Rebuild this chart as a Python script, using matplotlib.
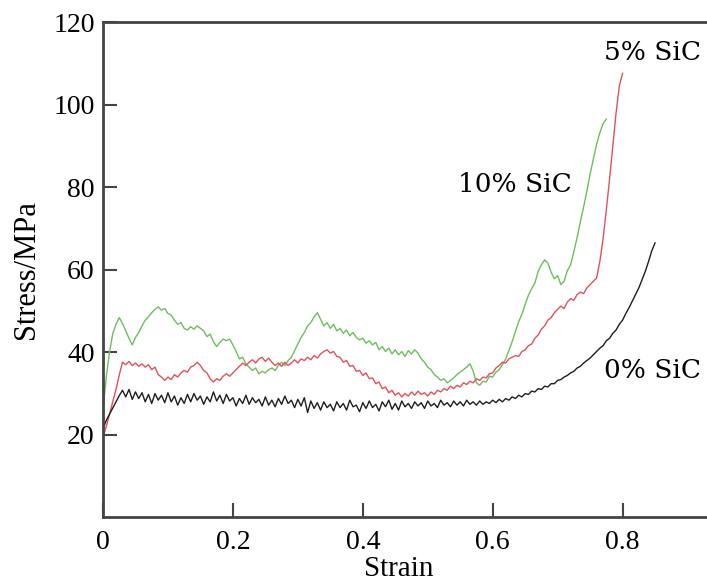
import numpy as np
import matplotlib
matplotlib.use("Agg")
import matplotlib.pyplot as plt

plt.rcParams["font.family"] = ["Liberation Serif", "DejaVu Serif"]

# stress (MPa) sampled every 0.005 strain
step = 0.005

sic0 = [
    21.5, 23.5, 25.0, 26.5, 28.0, 29.5, 30.8, 29.2, 31.0, 28.6,
    30.4, 28.8, 30.2, 28.0, 29.8, 27.6, 30.0, 28.4, 29.6, 27.8,
    30.2, 28.0, 29.4, 27.2, 29.0, 27.6, 29.8, 28.0, 30.0, 28.4,
    29.4, 27.4, 29.2, 28.0, 30.4, 28.2, 29.6, 27.6, 29.8, 28.2,
    29.0, 27.0, 28.8, 27.6, 29.6, 27.4, 29.0, 27.8, 28.6, 27.0,
    29.2, 27.2, 28.4, 26.8, 28.8, 27.4, 29.4, 27.6, 28.4, 26.6,
    28.6, 27.0, 29.0, 25.4, 28.2, 26.4, 27.8, 26.0, 28.0, 26.6,
    27.4, 25.8, 28.0, 26.6, 27.6, 26.0, 28.4, 26.8, 27.2, 25.6,
    27.8, 26.4, 28.2, 26.6, 27.4, 25.8, 28.0, 26.8, 28.4, 26.2,
    27.6, 26.0, 28.2, 26.8, 27.6, 26.4, 28.0, 27.0, 27.8, 26.4,
    28.2, 27.0, 27.6, 26.6, 28.4, 27.2, 27.8, 26.8, 28.2, 27.2,
    28.0, 27.0, 28.4, 27.4, 28.0, 27.2, 28.2, 27.4, 28.0, 27.6,
    28.4, 27.8, 28.6, 28.0, 28.8, 28.4, 29.2, 28.8, 29.6, 29.2,
    30.0, 29.8, 30.6, 30.4, 31.2, 31.0, 31.8, 31.6, 32.4, 32.4,
    33.2, 33.4, 34.0, 34.4, 35.0, 35.4, 36.2, 36.6, 37.4, 38.0,
    38.6, 39.4, 40.2, 41.0, 41.6, 42.8, 43.4, 44.6, 45.4, 46.8,
    47.8, 49.4, 50.8, 52.4, 54.0, 55.6, 57.6, 59.6, 62.0, 64.6,
    66.5,
]

sic5 = [
    19.5, 22.0, 25.0, 28.0, 31.0, 34.5, 37.6, 37.0, 37.8, 36.8,
    37.4, 36.6, 37.2, 36.4, 37.0, 35.8, 36.4, 34.6, 34.0, 33.2,
    34.0, 33.4, 34.6, 34.0, 35.0, 35.6, 35.2, 36.4, 36.8, 37.6,
    36.8, 35.6, 35.0, 33.6, 32.8, 33.6, 33.2, 34.2, 34.8, 34.2,
    35.0, 35.8, 36.6, 37.4, 36.8, 37.6, 38.2, 37.4, 38.4, 38.8,
    37.8, 38.6, 37.6, 36.8, 37.4, 36.6, 37.6, 36.8, 37.4, 38.2,
    37.4, 38.4, 38.0, 38.8, 38.2, 39.2, 38.6, 39.6, 40.2, 40.6,
    39.8, 40.2, 39.0, 38.8, 37.6, 38.0, 36.6, 36.8, 35.4, 35.6,
    34.4, 35.0, 33.6, 33.8, 32.4, 32.8, 31.2, 31.6, 30.2, 30.8,
    29.6, 30.2, 29.2, 30.0, 29.4, 30.4, 29.6, 30.6, 29.8, 30.2,
    29.4, 30.4, 29.8, 30.8, 30.4, 31.2, 30.8, 31.8, 31.2, 32.0,
    31.6, 32.6, 32.2, 33.0, 32.6, 33.6, 33.2, 34.0, 33.8, 34.8,
    35.0, 36.2, 36.8, 37.6, 37.4, 38.4, 38.8, 39.2, 39.0, 40.2,
    40.6, 41.6, 42.0, 43.4, 44.2, 45.6, 46.4, 47.8, 48.4, 49.6,
    50.4, 51.2, 50.6, 52.2, 53.0, 52.6, 54.0, 54.6, 54.2, 55.6,
    56.4, 57.2, 58.0, 62.0, 67.5, 74.5, 82.0, 90.0, 98.0, 104.5,
    107.6,
]

sic10 = [
    26.0, 34.0, 40.0, 44.5, 46.8, 48.4, 47.0, 45.2, 43.4, 41.8,
    43.6, 44.8, 46.4, 47.8, 48.6, 49.6, 50.4, 51.0, 50.2, 50.6,
    49.4, 49.0, 47.8, 46.8, 47.2, 45.8, 45.4, 46.2, 45.6, 46.4,
    45.8, 45.2, 43.8, 44.4, 42.6, 41.4, 42.4, 43.2, 42.8, 43.2,
    41.8, 40.2, 38.4, 38.8, 37.2, 36.4, 35.6, 36.2, 34.8, 35.4,
    35.0, 35.8, 36.2, 35.6, 36.8, 37.6, 36.8, 38.0, 38.8, 40.4,
    42.0, 43.6, 44.8, 46.4, 47.2, 48.6, 49.6, 48.0, 46.4, 47.2,
    45.8, 46.8, 45.2, 45.8, 44.6, 45.4, 44.0, 44.8, 43.6, 43.0,
    43.4, 42.2, 42.8, 41.8, 42.4, 40.6, 41.4, 40.2, 41.0, 39.6,
    40.6, 39.4, 40.2, 39.0, 40.4, 39.6, 40.6, 39.8, 38.4, 37.6,
    36.4, 35.8, 34.6, 34.0, 33.2, 33.6, 32.6, 33.2, 33.8, 34.6,
    35.2, 35.8, 36.4, 37.2, 35.4, 32.6, 32.0, 33.0, 32.8, 34.2,
    34.0, 35.2, 35.8, 37.0, 38.4, 40.4, 42.6, 45.0, 47.4, 49.2,
    51.6, 53.8, 55.4, 56.8, 59.6, 61.2, 62.4, 61.6, 59.4, 57.8,
    58.6, 56.4, 57.2, 59.8, 61.2, 64.4, 67.8, 71.6, 75.2, 79.0,
    83.2, 86.8, 90.4, 93.2, 95.4, 96.5,
]

curves = [
    (sic10, "#6cbf5c", "10% SiC", (0.546, 78.8)),
    (sic5, "#e4505c", "5% SiC", (0.772, 110.8)),
    (sic0, "#1e1e1e", "0% SiC", (0.772, 33.8)),
]

fig = plt.figure(figsize=(7.07, 5.82), dpi=100)
ax = fig.add_axes([0.1457, 0.111, 0.8543, 0.851])

for values, color, name, pos in curves:
    strain = np.arange(len(values)) * step
    ax.plot(strain, values, color=color, lw=1.0)
    ax.text(pos[0], pos[1], name, fontsize=19, family="DejaVu Serif",
            ha="left", va="baseline")

ax.set_xlim(0, 0.93)
ax.set_ylim(0, 120)
ax.set_xticks([0, 0.2, 0.4, 0.6, 0.8])
ax.set_xticklabels(["0", "0.2", "0.4", "0.6", "0.8"])
ax.set_yticks([20, 40, 60, 80, 100, 120])

ax.spines["right"].set_visible(False)
for side in ["left", "bottom", "top"]:
    ax.spines[side].set_linewidth(2.0)
    ax.spines[side].set_color("#444444")

ax.tick_params(direction="in", length=10, width=1.5, color="#444444",
               labelsize=20, pad=6)
ax.tick_params(axis="x", pad=9)

ax.set_xlabel("Strain", fontsize=21)
ax.xaxis.set_label_coords(0.49, -0.078)
ax.set_ylabel("Stress/MPa", fontsize=22, va="center")
ax.yaxis.set_label_coords(-0.126, 0.5)

fig.savefig("out.png", dpi=100)
